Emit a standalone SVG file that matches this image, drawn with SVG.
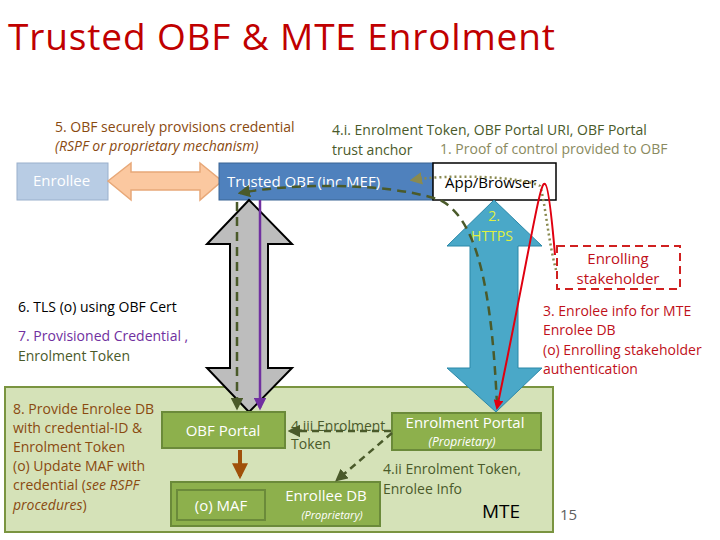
<svg xmlns="http://www.w3.org/2000/svg" width="720" height="540" viewBox="0 0 720 540">
<defs>
<style>
text{font-family:"Open Sans","Liberation Sans",sans-serif;font-size:14px}
.box{fill:#8db04c;stroke:#6b8a3a;stroke-width:2}
.wt{fill:#fff}
.dg{fill:#4a5a2a}
.br{fill:#8a4a10}
.rd{fill:#c0101a}
</style>
<marker id="ag" viewBox="0 0 10 10" refX="8" refY="5" markerWidth="5" markerHeight="5" orient="auto"><path d="M0,0L10,5L0,10z" fill="#4a5a2a"/></marker>
<marker id="ao" viewBox="0 0 10 10" refX="8" refY="5" markerWidth="5" markerHeight="5" orient="auto"><path d="M0,0L10,5L0,10z" fill="#8a8a50"/></marker>
<marker id="ap" viewBox="0 0 10 10" refX="8" refY="5" markerWidth="5" markerHeight="5" orient="auto"><path d="M0,0L10,5L0,10z" fill="#7030a0"/></marker>
<marker id="ar" viewBox="0 0 10 10" refX="8" refY="5" markerWidth="5" markerHeight="5" orient="auto"><path d="M0,0L10,5L0,10z" fill="#e00010"/></marker>
<marker id="ab" viewBox="0 0 10 10" refX="8" refY="5" markerWidth="4" markerHeight="4" orient="auto"><path d="M0,0L10,5L0,10z" fill="#a0500a"/></marker>
</defs>
<rect width="720" height="540" fill="#fff"/>
<text x="8" y="50" textLength="547" style="font-size:37px;fill:#c00000">Trusted OBF &amp; MTE Enrolment</text>

<g id="mte"><rect x="5" y="387" width="548" height="145" fill="#d5e2b8" stroke="#7a9440" stroke-width="2"/><text x="482" y="518" style="font-size:19px;fill:#000">MTE</text></g>
<g id="enrollee"><rect x="17" y="163" width="91" height="37" fill="#b8cce4" stroke="#9ab0cc"/><text x="33" y="186" class="wt" style="font-size:15px">Enrollee</text></g>
<g id="orange"><path d="M108,181L131,163V172H200V163L222,181L200,200V190H131V200Z" fill="#fbc8a0" stroke="#e8a878" stroke-width="1.5"/></g>
<g id="obf"><rect x="219" y="163" width="214" height="37" fill="#4f81bd" stroke="#3a6494"/><text x="227" y="187" class="wt" style="font-size:15px">Trusted OBF (inc MEF)</text></g>
<g id="app"><rect x="433" y="163" width="123" height="37" fill="#fff" stroke="#000" stroke-width="1.5"/><text x="445" y="188" style="font-size:15px">App/Browser</text></g>
<g id="stake"><rect x="557" y="246" width="123" height="43" fill="#fff" stroke="#d02020" stroke-width="2" stroke-dasharray="8,5"/><text x="618" y="264" text-anchor="middle" class="rd" style="font-size:15px">Enrolling</text><text x="618" y="284" text-anchor="middle" class="rd" style="font-size:15px">stakeholder</text></g>
<g id="grey"><path d="M249,200L292,244H268V368H292L249,412L207,368H230V244H207Z" fill="#bdbdbd" stroke="#000" stroke-width="2"/></g>
<g id="blue"><path d="M494,200L542,246H518V368H542L496,412L447,368H470V246H447Z" fill="#4aa8c8" stroke="#2a88a8" stroke-width="1"/><text x="494" y="221" text-anchor="middle" style="fill:#e0f040">2.</text><text x="492" y="241" text-anchor="middle" style="fill:#e0f040">HTTPS</text></g>
<g id="obfportal"><rect x="162" y="412" width="123" height="36" class="box"/><text x="223" y="436" text-anchor="middle" class="wt" style="font-size:15px">OBF Portal</text></g>
<g id="enrdb"><rect x="171" y="482" width="209" height="44" class="box"/><rect x="177" y="490" width="88" height="30" class="box"/><text x="221" y="511" text-anchor="middle" class="wt" style="font-size:15px">(o) MAF</text><text x="326" y="501" text-anchor="middle" class="wt" style="font-size:15px">Enrollee DB</text><text x="332" y="519" text-anchor="middle" class="wt" style="font-size:11px;font-style:italic">(Proprietary)</text></g>
<g id="enrportal"><rect x="392" y="413" width="149" height="37" class="box"/><text x="465" y="428" text-anchor="middle" class="wt" style="font-size:15px">Enrolment Portal</text><text x="462" y="446" text-anchor="middle" class="wt" style="font-size:12px;font-style:italic">(Proprietary)</text></g>

<g id="connectors" fill="none">
<path d="M237,202V408" stroke="#4a5a2a" stroke-width="2.5" stroke-dasharray="9,6" marker-end="url(#ag)"/>
<path d="M260,200V408" stroke="#7030a0" stroke-width="2.5" marker-end="url(#ap)"/>
<path d="M497,405C492,300 480,220 440,200C380,180 280,185 240,193" stroke="#4a5a2a" stroke-width="2.5" stroke-dasharray="9,6" marker-end="url(#ag)"/>
<path d="M556,270C548,240 545,200 540,186C520,176 450,174 412,180" stroke="#8a8a50" stroke-width="2.5" stroke-dasharray="2,3" marker-end="url(#ao)"/>
<path d="M555,255C552,220 548,185 545,184C540,178 530,250 497,408" stroke="#e00010" stroke-width="2" marker-end="url(#ar)"/>
<path d="M240,450V476" stroke="#a0500a" stroke-width="4" marker-end="url(#ab)"/>
<path d="M391,431H290" stroke="#4a5a2a" stroke-width="2.5" stroke-dasharray="7,5" marker-end="url(#ag)"/>
<path d="M392,433L337,480" stroke="#4a5a2a" stroke-width="2.5" stroke-dasharray="7,5" marker-end="url(#ag)"/>
</g>

<text x="55" y="132" class="br">5. OBF securely provisions credential</text>
<text x="55" y="151" class="br" style="font-style:italic">(RSPF or proprietary mechanism)</text>
<text x="332" y="135" class="dg">4.i. Enrolment Token, OBF Portal URI, OBF Portal</text>
<text x="332" y="155" class="dg">trust anchor</text>
<text x="440" y="154" style="fill:#8a8a60">1. Proof of control provided to OBF</text>
<text x="18" y="312" style="fill:#000">6. TLS (o) using OBF Cert</text>
<text x="18" y="341" style="fill:#7030a0">7. Provisioned Credential ,</text>
<text x="18" y="361" class="dg">Enrolment Token</text>
<text x="543" y="316" class="rd">3. Enrolee info for MTE</text>
<text x="543" y="335" class="rd">Enrolee DB</text>
<text x="543" y="355" class="rd">(o) Enrolling stakeholder</text>
<text x="543" y="374" class="rd">authentication</text>
<text x="13" y="414" class="br">8. Provide Enrolee DB</text>
<text x="13" y="433" class="br">with credential-ID &amp;</text>
<text x="13" y="452" class="br">Enrolment Token</text>
<text x="13" y="471" class="br">(o) Update MAF with</text>
<text x="13" y="490" class="br">credential (<tspan font-style="italic">see RSPF</tspan></text>
<text x="13" y="510" class="br"><tspan font-style="italic">procedures</tspan>)</text>
<text x="291" y="431" class="dg">4.iii Enrolment</text>
<text x="291" y="449" class="dg">Token</text>
<text x="383" y="474" class="dg">4.ii Enrolment Token,</text>
<text x="383" y="494" class="dg">Enrolee Info</text>
<text x="560" y="520" style="fill:#606060;font-size:15px">15</text>
</svg>
